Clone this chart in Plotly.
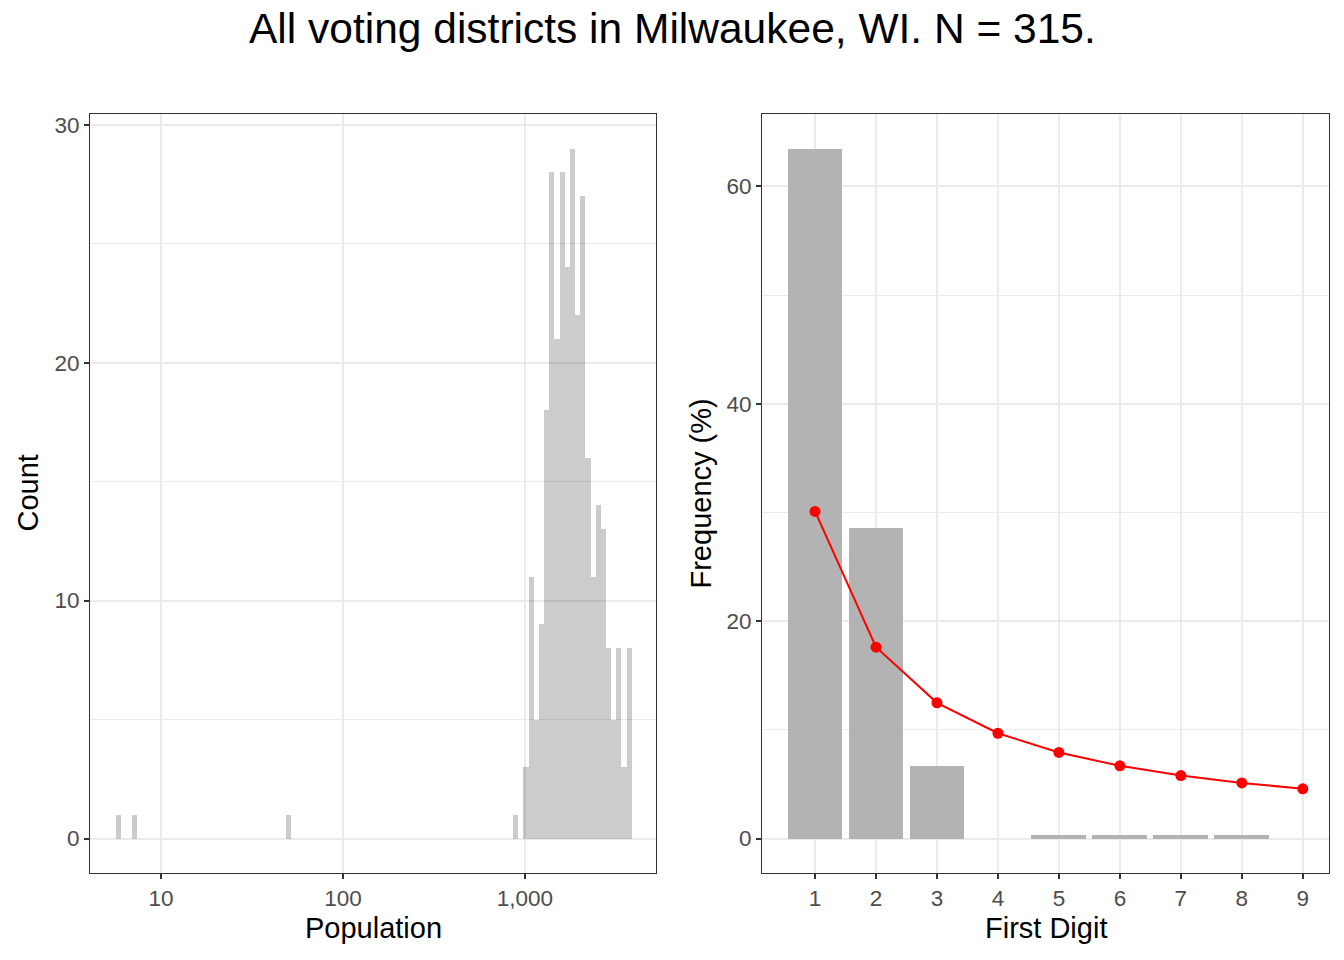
import numpy as np
import plotly.graph_objects as go

# ---------------- data ----------------
# Left panel: histogram of district populations (log10 scale, 100 bins)
pop_min = 5.85       # population at the centre of the first bin
pop_max = 3740       # population at the centre of the last bin
n_bins = 100
hist_bin_index = [0, 3, 33, 77,
                  79, 80, 81, 82, 83, 84, 85, 86, 87, 88, 89,
                  90, 91, 92, 93, 94, 95, 96, 97, 98, 99]
hist_counts = [1, 1, 1, 1,
               3, 11, 5, 9, 18, 28, 21, 28, 24, 29, 22,
               27, 16, 11, 14, 13, 8, 5, 8, 3, 8]
pop_tick_values = [10, 100, 1000]
pop_tick_labels = ["10", "100", "1,000"]

# Right panel: first-digit frequencies vs Benford
digits = [1, 2, 3, 4, 5, 6, 7, 8, 9]
observed_pct = [63.49, 28.57, 6.67, 0.0, 0.32, 0.32, 0.32, 0.32, 0.0]
benford_pct = [30.10, 17.61, 12.49, 9.69, 7.92, 6.69, 5.80, 5.12, 4.58]

title_text = "All voting districts in Milwaukee, WI. N = 315."

# ---------------- geometry helpers ----------------
lo, hi = np.log10(pop_min), np.log10(pop_max)
bin_w = (hi - lo) / (n_bins - 1)
hist_centers = [lo + i * bin_w for i in hist_bin_index]

W, H = 1344, 960
def fx(px):
    return px / W
def fy(py):
    return 1 - py / H

FONT = "Liberation Sans, Arial, Helvetica, sans-serif"
GRID = "#EBEBEB"
FRAME = "#333333"
TICKC = "#4D4D4D"

fig = go.Figure()

fig.add_trace(go.Bar(
    x=hist_centers, y=hist_counts, width=bin_w,
    marker=dict(color="rgba(0,0,0,0.2)", line=dict(width=0)),
    xaxis="x", yaxis="y", showlegend=False, hoverinfo="x+y"))

fig.add_trace(go.Bar(
    x=digits, y=observed_pct, width=0.9,
    marker=dict(color="#B3B3B3", line=dict(width=0)),
    xaxis="x2", yaxis="y2", showlegend=False))

fig.add_trace(go.Scatter(
    x=digits, y=benford_pct, mode="lines+markers",
    line=dict(color="#FF0000", width=2),
    marker=dict(color="#FF0000", size=11),
    xaxis="x2", yaxis="y2", showlegend=False))

axis_common = dict(
    showline=True, linecolor=FRAME, linewidth=1, mirror=True,
    ticks="outside", ticklen=5, tickcolor=FRAME, tickwidth=2,
    tickfont=dict(family=FONT, size=22.5, color=TICKC),
    showgrid=True, gridcolor=GRID, gridwidth=2,
    zeroline=False, fixedrange=True,
)
minor_common = dict(showgrid=True, gridcolor=GRID, gridwidth=1, ticks="")

log_ticks = [float(np.log10(v)) for v in pop_tick_values]

fig.update_layout(
    width=W, height=H,
    margin=dict(l=0, r=0, t=0, b=0),
    paper_bgcolor="white", plot_bgcolor="white",
    bargap=0,
    font=dict(family=FONT, color="black"),
    xaxis=dict(axis_common, domain=[fx(90), fx(656)], anchor="y",
               range=[0.610, 3.720], tickmode="array",
               tickvals=log_ticks, ticktext=pop_tick_labels),
    yaxis=dict(axis_common, domain=[fy(873), fy(114)], anchor="x",
               range=[-1.45, 30.45], tickmode="array",
               tickvals=[0, 10, 20, 30],
               minor=dict(minor_common, tickvals=[5, 15, 25])),
    xaxis2=dict(axis_common, domain=[fx(762), fx(1329)], anchor="y2",
                range=[0.13, 9.43], tickmode="array", tickvals=digits,
                ticktext=[str(d) for d in digits]),
    yaxis2=dict(axis_common, domain=[fy(873), fy(114)], anchor="x2",
                range=[-3.17, 66.67], tickmode="array",
                tickvals=[0, 20, 40, 60],
                minor=dict(minor_common, tickvals=[10, 30, 50])),
)

annots = [
    dict(text=title_text, x=0.5, y=fy(28), font=dict(size=42.5)),
    dict(text="Population", x=fx(373), y=fy(928), font=dict(size=29)),
    dict(text="First Digit", x=fx(1045.5), y=fy(928), font=dict(size=29)),
    dict(text="Count", x=fx(27), y=fy(493.5), font=dict(size=29), textangle=-90),
    dict(text="Frequency (%)", x=fx(700), y=fy(493.5), font=dict(size=29), textangle=-90),
]
for a in annots:
    a.update(xref="paper", yref="paper", showarrow=False,
             xanchor="center", yanchor="middle")
    a["font"].update(family=FONT, color="black")
    fig.add_annotation(**a)

fig.write_html("out.html")
